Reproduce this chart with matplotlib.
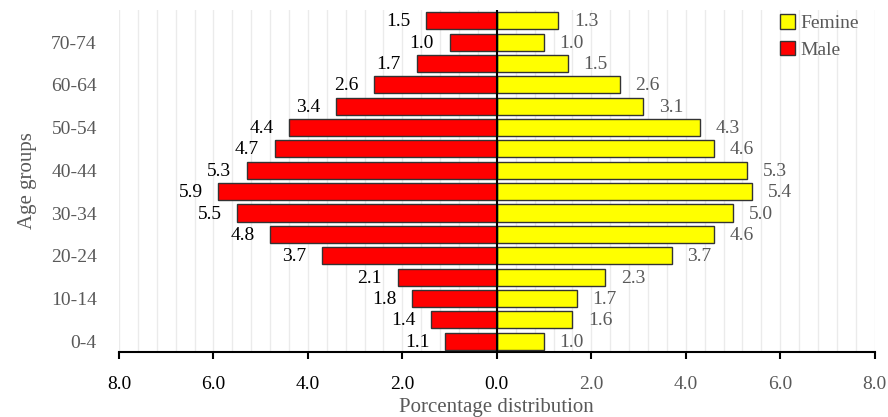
import numpy as np
import matplotlib
matplotlib.use("Agg")
import matplotlib.pyplot as plt

age_groups = ["0-4", "5-9", "10-14", "15-19", "20-24", "25-29", "30-34", "35-39",
              "40-44", "45-49", "50-54", "55-59", "60-64", "65-69", "70-74", "75+"]
male = [1.1, 1.4, 1.8, 2.1, 3.7, 4.8, 5.5, 5.9, 5.3, 4.7, 4.4, 3.4, 2.6, 1.7, 1.0, 1.5]
female = [1.0, 1.6, 1.7, 2.3, 3.7, 4.6, 5.0, 5.4, 5.3, 4.6, 4.3, 3.1, 2.6, 1.5, 1.0, 1.3]
x_ticks = [-8, -6, -4, -2, 0, 2, 4, 6, 8]

plt.rcParams['font.family'] = ['Liberation Serif', 'DejaVu Serif']
grey = '#595959'

fig = plt.figure(figsize=(8.88, 4.17), dpi=100)
ax = fig.add_axes([0.134, 0.156, 0.851, 0.82])

y = np.arange(len(age_groups))
ax.barh(y, female, height=0.8, color='#ffff00', edgecolor='#333333', linewidth=1, label='Femine', zorder=3)
ax.barh(y, [-m for m in male], height=0.8, color='#ff0000', edgecolor='#333333', linewidth=1, label='Male', zorder=3)
ax.axvline(0, color='black', linewidth=1.5, zorder=4)

# etiquetas de valores
for yi, m, f in zip(y, male, female):
    ax.text(-m - 0.33, yi - 0.05, f"{m:.1f}", ha='right', va='center', fontsize=14, color='black')
    ax.text(f + 0.33, yi - 0.05, f"{f:.1f}", ha='left', va='center', fontsize=14, color=grey)

ax.set_xlim(-8, 8)
ax.set_ylim(-0.5, 15.5)
ax.set_xticks(x_ticks)
ax.set_xticklabels([f"{abs(t):.1f}" for t in x_ticks], fontsize=14)
for lab, t in zip(ax.get_xticklabels(), x_ticks):
    lab.set_color('black' if t <= 0 else grey)
ax.set_xticks(np.arange(-8, 8.01, 0.4), minor=True)
ax.grid(axis='x', which='both', color='#ebebeb', linewidth=1, zorder=0)
ax.tick_params(axis='x', which='major', length=5, width=1.5, direction='out', pad=12)
ax.tick_params(axis='x', which='minor', length=0)

ax.set_yticks(y[::2])
ax.set_yticklabels(age_groups[::2], fontsize=14, color=grey)
ax.tick_params(axis='y', length=0, pad=16)

for s in ['top', 'right', 'left']:
    ax.spines[s].set_visible(False)
ax.spines['bottom'].set_linewidth(1.5)

ax.set_xlabel("Porcentage distribution", fontsize=15, color=grey, labelpad=4)
ax.set_ylabel("Age groups", fontsize=15, color=grey, labelpad=10)

leg = ax.legend(loc='upper right', frameon=False, fontsize=14, handlelength=0.75, handleheight=0.75,
                handletextpad=0.3, borderaxespad=0.0, labelspacing=0.45, bbox_to_anchor=(0.99, 1.01))
for t in leg.get_texts():
    t.set_color(grey)

fig.savefig("out.png", dpi=100)
